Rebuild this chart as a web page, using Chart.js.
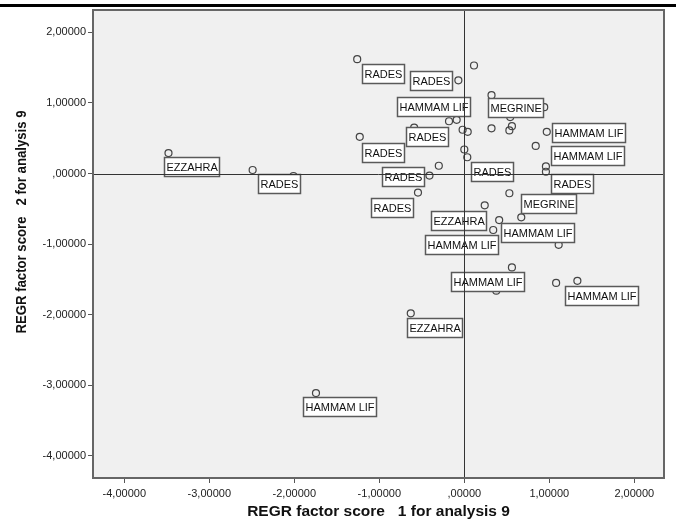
<!DOCTYPE html>
<html>
<head>
<meta charset="utf-8">
<script src="https://cdn.jsdelivr.net/npm/chart.js@4"></script>
<style>
  body { margin: 0; background: #fff; }
  .wrap { position: relative; width: 676px; height: 530px; }
  .wrap canvas { position: absolute; left: 0; top: 0; }
  .top_rule { position: absolute; left: 0; top: 4px; width: 676px; height: 3px; background: #000; }
</style>
</head>
<body>
<div class="wrap">
  <canvas id="myChart" width="676" height="530"></canvas>
  <div class="top_rule"></div>
</div>
<script>
// REGR factor scores (analysis 9)
const factor1 = [-3.48, -2.49, -2.01, -1.26, 0.114, -0.07, -0.18, -0.09, -0.02, 0.04,
  0.0, 0.035, -1.23, -0.59, -0.30, -0.41, -0.545, 0.32, 0.94, 0.54,
  0.32, 0.56, 0.53, 0.97, 0.84, 0.96, 0.96, 0.53, 0.24, 0.67,
  0.41, 0.34, 1.11, 0.56, 0.376, 1.08, 1.33, -0.63, -1.745];
const factor2 = [0.29, 0.05, -0.035, 1.62, 1.53, 1.32, 0.74, 0.76, 0.62, 0.59,
  0.34, 0.23, 0.52, 0.65, 0.11, -0.03, -0.27, 1.11, 0.94, 0.80,
  0.64, 0.67, 0.61, 0.59, 0.39, 0.10, 0.025, -0.28, -0.45, -0.62,
  -0.66, -0.80, -1.01, -1.33, -1.66, -1.55, -1.52, -1.98, -3.11];
const siteNames = ["EZZAHRA", "RADES", "", "RADES", "", "RADES", "", "HAMMAM LIF", "", "",
  "", "RADES", "RADES", "RADES", "", "RADES", "RADES", "MEGRINE", "", "",
  "", "", "", "HAMMAM LIF", "", "HAMMAM LIF", "RADES", "MEGRINE", "EZZAHRA", "",
  "HAMMAM LIF", "HAMMAM LIF", "", "HAMMAM LIF", "", "", "HAMMAM LIF", "EZZAHRA", "HAMMAM LIF"];
const xTicks = [-4, -3, -2, -1, 0, 1, 2];
const yTicks = [2, 1, 0, -1, -2, -3, -4];

// сдвиг подписи (левый верхний угол рамки) от точки, в пикселях
const labelShift = [[-4, 4], [5, 4], null, [5, 5], null, [-48, -9], null, [-60, -23], null, null,
  null, [4, 5], [2, 6], [-8, -1], null, [-47, -9], [-47, 5], [-4, 3], null, null,
  null, null, null, [5, -9], null, [5, -20], [5, 2], [12, 1], [-54, 6], null,
  [2, 3], [-68, 5], null, [-61, 5], null, null, [-12, 5], [-4, 5], [-13, 4]];

const FONT = '"Liberation Sans", Arial, sans-serif';

function spssNumber(v) {
  let s = Math.abs(v).toFixed(5).replace(".", ",");
  if (s.startsWith("0,")) s = s.slice(1);
  return (v < 0 ? "-" : "") + s;
}

const plotFrame = {
  id: "plotFrame",
  beforeDraw(chart) {
    const { ctx, chartArea: a } = chart;
    ctx.save();
    ctx.fillStyle = "#f0f0f0";
    ctx.fillRect(a.left, a.top, a.right - a.left, a.bottom - a.top);
    ctx.restore();
  },
  afterDatasetsDraw(chart) {
    const { ctx, chartArea: a, scales } = chart;
    const meta = chart.getDatasetMeta(0);
    ctx.save();
    // подписи в рамках
    ctx.font = "11px " + FONT;
    ctx.textBaseline = "middle";
    meta.data.forEach((pt, i) => {
      if (!siteNames[i]) return;
      const bx = Math.round(pt.x + labelShift[i][0]) + 0.5;
      const by = Math.round(pt.y + labelShift[i][1]) + 0.5;
      const w = Math.round(ctx.measureText(siteNames[i]).width) + 4;
      ctx.fillStyle = "#fff";
      ctx.fillRect(bx, by, w, 19);
      ctx.strokeStyle = "#5a5a5a";
      ctx.lineWidth = 1.5;
      ctx.strokeRect(bx, by, w, 19);
      ctx.fillStyle = "#111";
      ctx.fillText(siteNames[i], bx + 2, by + 10);
    });
    // линии через ноль
    const x0 = Math.round(scales.x.getPixelForValue(0)) + 0.5;
    const y0 = Math.round(scales.y.getPixelForValue(0)) + 0.5;
    ctx.strokeStyle = "#333";
    ctx.lineWidth = 1;
    ctx.beginPath();
    ctx.moveTo(x0, a.top);
    ctx.lineTo(x0, a.bottom);
    ctx.moveTo(a.left, y0);
    ctx.lineTo(a.right, y0);
    ctx.stroke();
    // рамка
    ctx.strokeStyle = "#666";
    ctx.lineWidth = 2;
    ctx.strokeRect(a.left, a.top, a.right - a.left, a.bottom - a.top);
    ctx.restore();
  },
  afterDraw(chart) {
    const { ctx, chartArea: a } = chart;
    ctx.save();
    ctx.fillStyle = "#111";
    ctx.font = "bold 15.5px " + FONT;
    ctx.textAlign = "center";
    ctx.textBaseline = "middle";
    ctx.fillText("REGR factor score   1 for analysis 9", (a.left + a.right) / 2, 512);
    const yTitle = "REGR factor score   2 for analysis 9";
    ctx.font = "bold 15px " + FONT;
    const k = 223 / ctx.measureText(yTitle).width;
    ctx.translate(22, 222);
    ctx.rotate(-Math.PI / 2);
    ctx.scale(k, 1);
    ctx.fillText(yTitle, 0, 0);
    ctx.restore();
  },
};

document.addEventListener("DOMContentLoaded", function () {
  const points = factor1.map((x, i) => ({ x: x, y: factor2[i] }));
  const ctx = document.getElementById("myChart").getContext("2d");

  new Chart(ctx, {
    type: "scatter",
    plugins: [plotFrame],
    data: {
      datasets: [
        {
          data: points,
          pointStyle: "circle",
          pointRadius: 3.5,
          pointHoverRadius: 3.5,
          borderColor: "#444",
          borderWidth: 1.2,
          backgroundColor: "rgba(0,0,0,0)",
        },
      ],
    },
    options: {
      responsive: false,
      animation: false,
      layout: { padding: { top: 10, right: 12, left: 0, bottom: 0 } },
      plugins: { legend: { display: false }, tooltip: { enabled: false } },
      scales: {
        x: {
          type: "linear",
          min: -4.368,
          max: 2.349,
          afterFit: (scale) => { scale.height = 52; },
          afterBuildTicks: (scale) => { scale.ticks = xTicks.map((v) => ({ value: v })); },
          ticks: {
            padding: 4,
            maxRotation: 0,
            color: "#222",
            font: { family: FONT, size: 11 },
            callback: (value) => spssNumber(value),
          },
          grid: { drawOnChartArea: false, drawTicks: true, tickLength: 5, color: "#555" },
          border: { display: false },
        },
        y: {
          type: "linear",
          min: -4.313,
          max: 2.316,
          afterFit: (scale) => { scale.width = 93; },
          afterBuildTicks: (scale) => { scale.ticks = yTicks.map((v) => ({ value: v })); },
          ticks: {
            padding: 2,
            color: "#222",
            font: { family: FONT, size: 11 },
            callback: (value) => spssNumber(value),
          },
          grid: { drawOnChartArea: false, drawTicks: true, tickLength: 5, color: "#555" },
          border: { display: false },
        },
      },
    },
  });
});
</script>
</body>
</html>
